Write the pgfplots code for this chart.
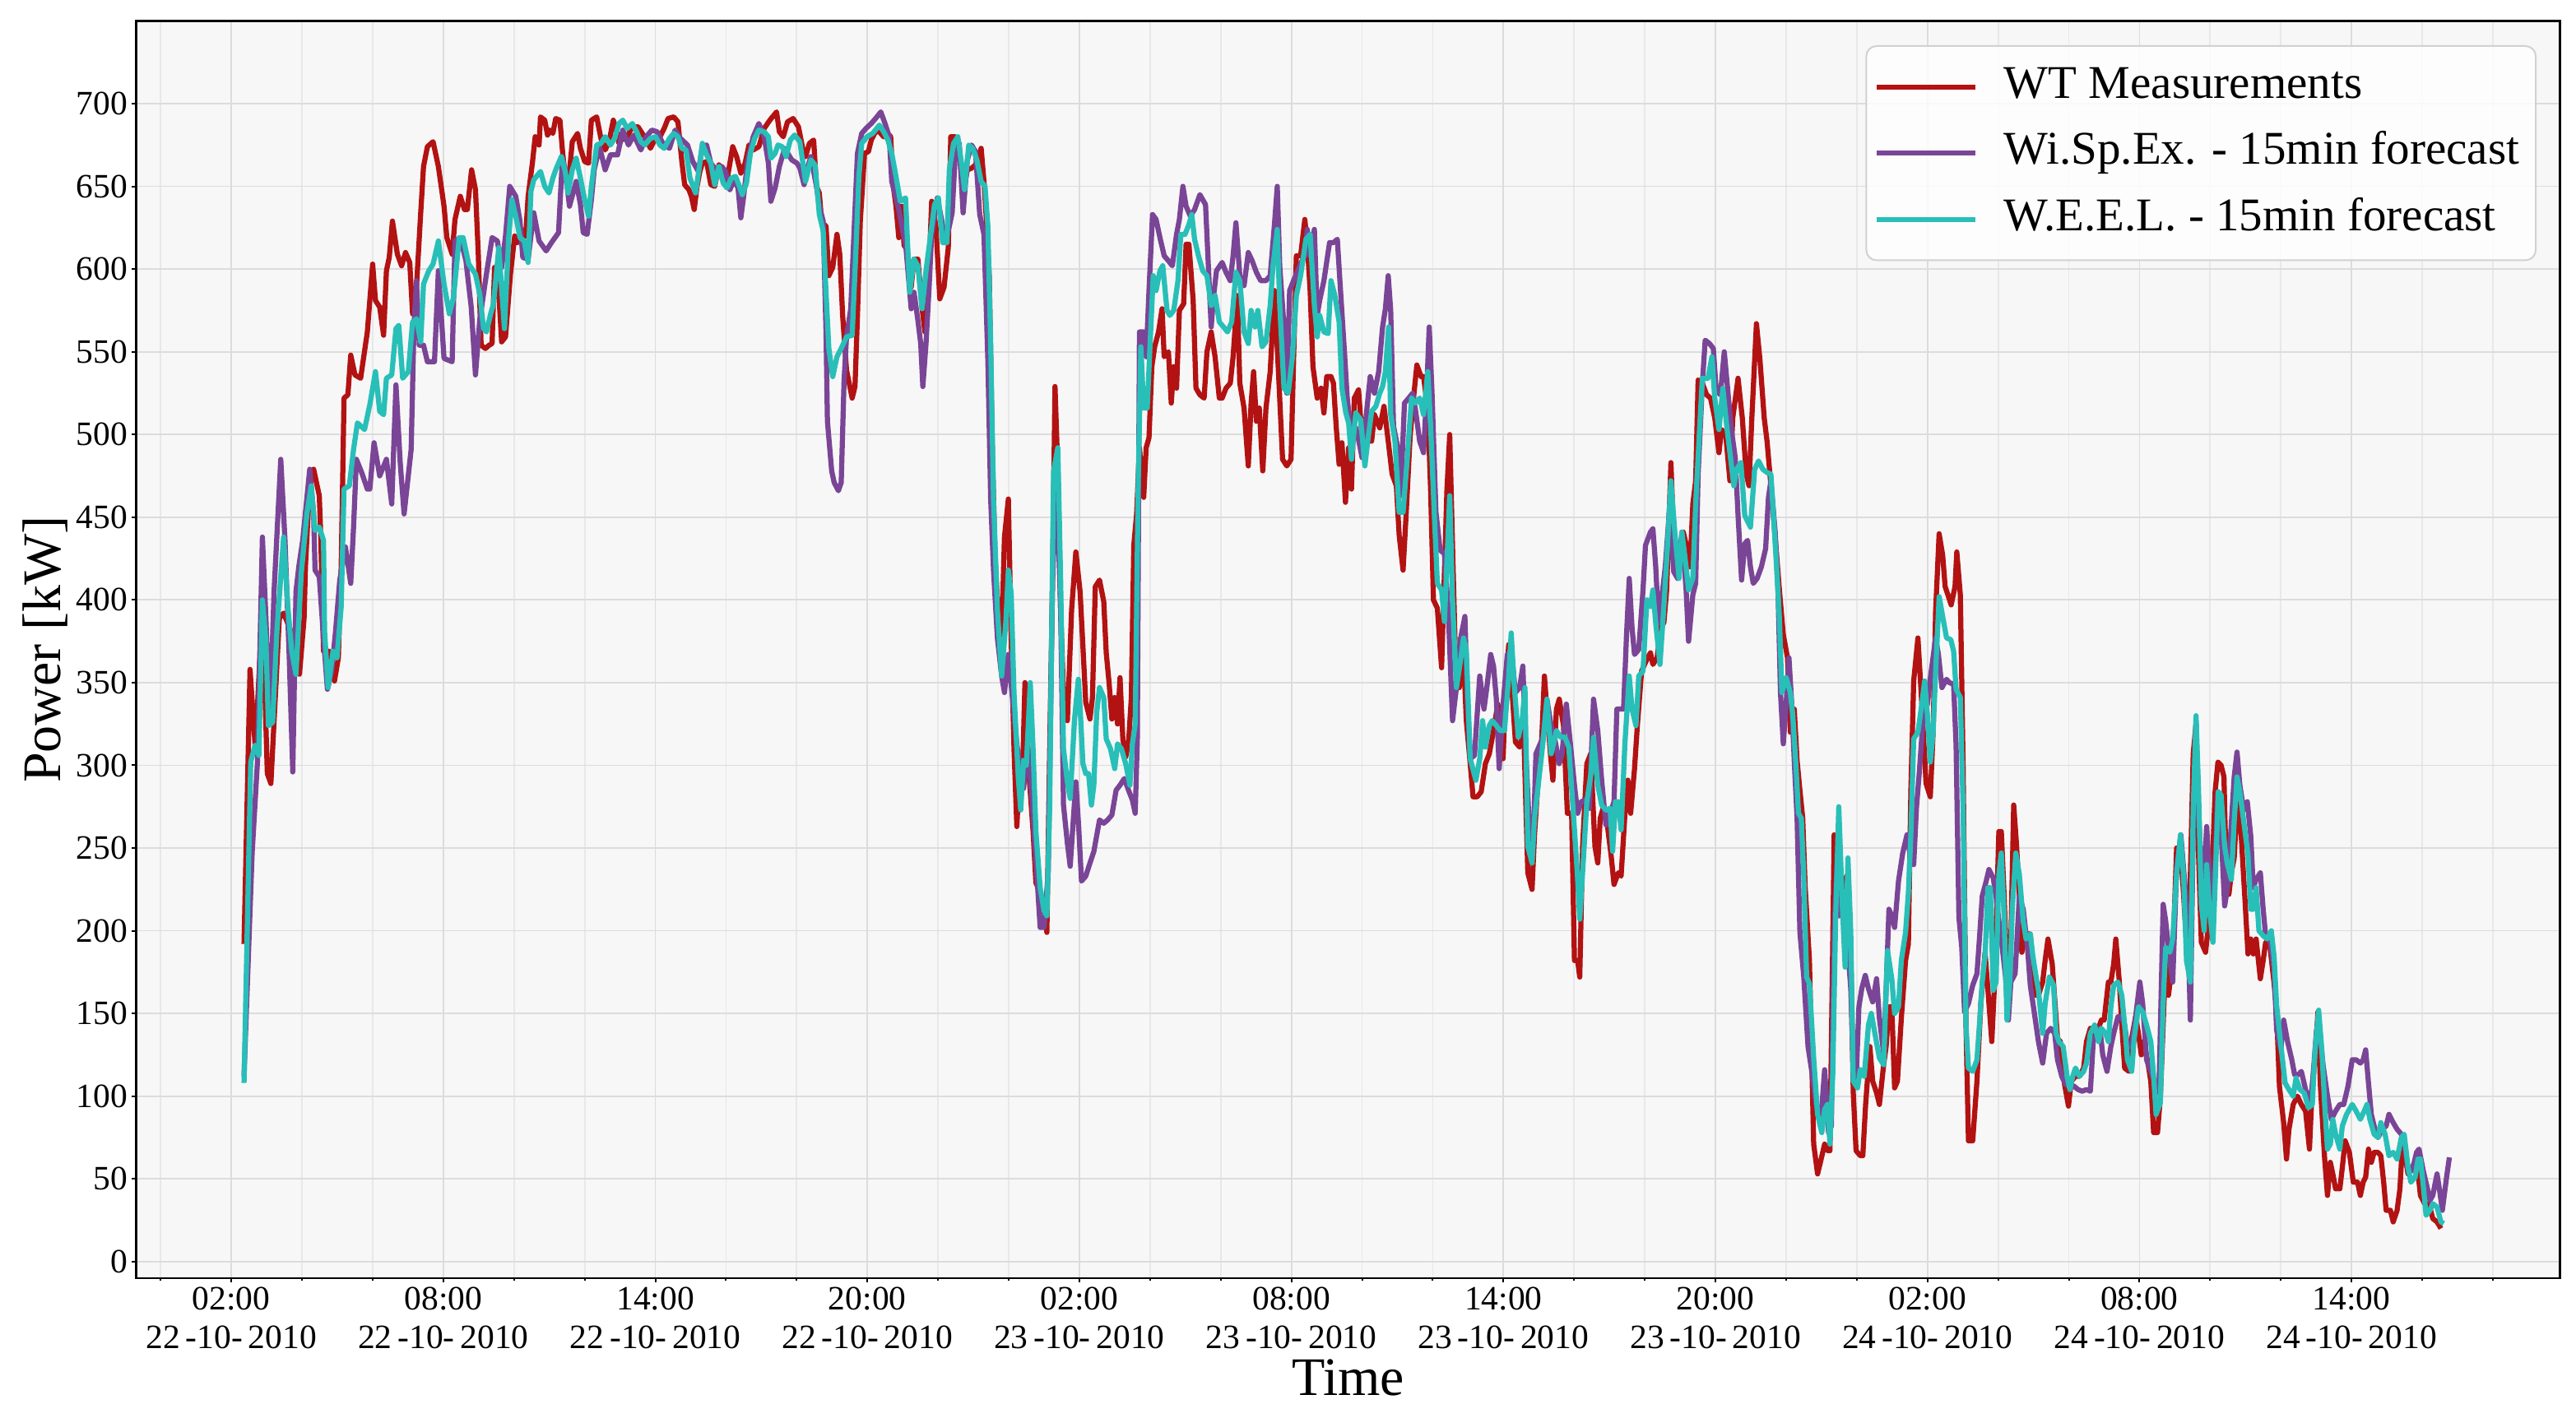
\documentclass[border=0pt]{standalone}
\usepackage{pgfplots}
\pgfplotsset{compat=1.18}
\usepackage{fontspec}
\setmainfont{Liberation Serif}
\definecolor{cRed}{HTML}{B31212}
\definecolor{cPur}{HTML}{7A4596}
\definecolor{cTeal}{HTML}{28BFB8}
\definecolor{bgc}{HTML}{F7F7F7}
\definecolor{gridc}{HTML}{DCDCDC}
\definecolor{mgridc}{HTML}{E8E8E8}
\begin{document}
\begin{tikzpicture}
\useasboundingbox (-33.12pt,-34pt) rectangle (593.1pt,310.8pt);
\begin{axis}[
  at={(0,0)}, anchor=south west,
  width=589.2pt, height=305.7pt, scale only axis,
  xmin=-0.69, xmax=67.9, ymin=-10, ymax=750,
  axis background/.style={fill=bgc},
  axis line style={black, line width=0.45pt},
  tick pos=left, tick align=outside,
  major tick length=1.1pt, minor tick length=0.7pt,
  every tick/.style={black, line width=0.4pt},
  grid=both,
  major grid style={gridc, line width=0.35pt},
  minor grid style={mgridc, line width=0.35pt},
  xtick={2,8,...,62},
  minor xtick={0,4,6,10,12,16,18,22,24,28,30,34,36,40,42,46,48,52,54,58,60,64,66},
  xticklabels={{02:00\\22\,-10-\,2010},{08:00\\22\,-10-\,2010},{14:00\\22\,-10-\,2010},{20:00\\22\,-10-\,2010},
               {02:00\\23\,-10-\,2010},{08:00\\23\,-10-\,2010},{14:00\\23\,-10-\,2010},{20:00\\23\,-10-\,2010},
               {02:00\\24\,-10-\,2010},{08:00\\24\,-10-\,2010},{14:00\\24\,-10-\,2010}},
  xticklabel style={align=center, font=\fontsize{8.3}{9.4}\selectfont, yshift=2.4pt},
  ytick={0,50,...,700},
  yticklabel style={font=\fontsize{8.3}{9}\selectfont, xshift=2.5pt},
  /pgf/number format/assume math mode=true,
  xlabel={Time}, ylabel={Power [kW]},
  label style={font=\fontsize{13.2}{15}\selectfont},
  xlabel style={at={(axis description cs:0.5,-0.079)}, anchor=center},
  ylabel style={at={(axis description cs:-0.0375,0.5)}, anchor=center},
  legend cell align=left,
  legend image code/.code={\draw[#1, line width=1.2pt] (0pt,0pt) -- (24pt,0pt);},
  legend style={at={(axis description cs:1,1)}, anchor=north east, xshift=-5.7pt, yshift=-5.9pt,
    draw=black!18, rounded corners=2.5pt, fill=white, fill opacity=0.8, text opacity=1, draw opacity=1,
    font=\fontsize{11.4}{13}\selectfont, inner xsep=2pt, inner ysep=2.6pt, row sep=1.4pt,
    nodes={inner sep=2pt, text depth=2.6pt, text height=8.1pt},
    /tikz/every odd column/.append style={column sep=4.3pt}},
  every axis plot/.append style={line join=round, line width=1.25pt},
]
\addplot[cRed] coordinates {
(2.36,192)(2.53,358)(2.68,310)(2.88,395)(3.02,295)(3.12,289)(3.36,389)(3.48,392)(3.69,381)(3.81,357)(3.93,355)(4.06,389)(4.10,421)(4.22,471)(4.33,479)(4.49,463)(4.53,440)(4.61,369)(4.76,369)(4.92,351)(5.03,365)(5.11,420)(5.19,522)(5.30,524)(5.38,548)(5.50,536)(5.66,534)(5.85,562)(6.00,603)(6.08,581)(6.20,577)(6.31,560)(6.39,599)(6.47,607)(6.56,629)(6.70,609)(6.82,602)(6.93,610)(7.05,604)(7.13,573)(7.24,589)(7.36,634)(7.44,662)(7.55,674)(7.71,677)(7.86,662)(8.02,638)(8.10,619)(8.25,609)(8.33,630)(8.48,644)(8.60,636)(8.68,636)(8.80,660)(8.91,648)(8.99,609)(9.07,554)(9.19,552)(9.30,554)(9.38,555)(9.45,601)(9.57,585)(9.65,556)(9.76,559)(9.90,597)
(10.02,620)(10.09,616)(10.21,624)(10.33,620)(10.40,644)(10.52,664)(10.60,680)(10.71,675)(10.75,692)(10.87,690)(10.95,681)(11.02,684)(11.10,682)(11.18,691)(11.30,690)(11.37,672)(11.45,655)(11.53,650)(11.65,677)(11.80,682)(11.88,673)(12.00,665)(12.11,664)(12.19,690)(12.34,692)(12.46,679)(12.58,672)(12.69,677)(12.81,690)(12.89,685)(12.97,676)(13.04,678)(13.20,680)(13.35,686)(13.51,686)(13.66,681)(13.74,679)(13.86,673)(13.98,678)(14.13,680)(14.25,685)(14.36,691)(14.52,692)(14.64,689)(14.75,665)(14.83,651)(14.95,648)(15.02,644)(15.10,636)(15.18,650)(15.26,659)(15.33,664)(15.45,665)(15.57,651)(15.68,650)(15.80,663)(15.92,657)(16.03,654)(16.19,674)(16.30,668)(16.42,658)(16.54,664)(16.65,675)(16.77,672)(16.93,674)(17.08,685)(17.24,690)(17.43,695)(17.51,683)(17.62,680)(17.74,689)(17.90,691)(18.05,686)
(18.17,673)(18.25,668)(18.36,676)(18.48,678)(18.56,650)(18.64,646)(18.71,628)(18.83,626)(18.91,596)(19.02,601)(19.14,621)(19.22,609)(19.30,572)(19.41,539)(19.57,522)(19.65,529)(19.72,572)(19.80,629)(19.92,670)(20.03,671)(20.11,678)(20.23,683)(20.34,683)(20.46,680)(20.58,682)(20.66,680)(20.73,651)(20.81,638)(20.89,619)(20.97,638)(21.04,614)(21.12,613)(21.24,589)(21.32,606)(21.43,606)(21.55,576)(21.63,562)(21.74,596)(21.82,641)(21.94,626)(22.05,582)(22.17,589)(22.29,613)(22.36,680)(22.48,680)(22.60,673)(22.71,646)(22.83,660)(22.95,661)(23.06,663)(23.22,673)(23.30,653)(23.37,629)(23.45,596)(23.53,498)(23.61,428)(23.72,384)(23.80,377)(23.88,438)(23.99,461)(24.07,377)(24.15,310)(24.23,263)(24.30,293)(24.38,286)(24.46,350)(24.58,293)(24.69,260)(24.77,229)(24.89,223)(25.00,212)(25.08,199)(25.16,310)(25.24,411)(25.31,529)(25.39,478)(25.47,394)(25.55,344)(25.66,327)(25.78,394)(25.90,429)
(26.02,405)(26.10,372)(26.18,338)(26.30,328)(26.37,341)(26.45,408)(26.57,412)(26.69,399)(26.76,368)(26.84,350)(26.92,328)(27.00,341)(27.08,325)(27.15,353)(27.23,316)(27.31,305)(27.39,313)(27.47,341)(27.54,433)(27.62,452)(27.70,492)(27.82,462)(27.89,492)(27.97,498)(28.05,541)(28.13,553)(28.24,562)(28.34,576)(28.40,547)(28.52,550)(28.60,519)(28.67,541)(28.75,528)(28.83,575)(28.95,579)(29.02,615)(29.10,615)(29.22,581)(29.30,528)(29.41,524)(29.53,522)(29.61,550)(29.73,562)(29.84,547)(29.96,522)(30.04,522)(30.15,528)(30.27,531)(30.35,547)(30.47,584)(30.54,531)(30.66,516)(30.78,481)(30.86,519)(30.93,538)(31.01,508)(31.09,516)(31.19,478)(31.28,516)(31.40,538)(31.52,587)(31.64,535)(31.75,485)(31.87,481)(31.99,485)(32.06,544)(32.14,608)(32.26,608)(32.38,630)(32.45,615)(32.53,587)(32.61,541)(32.73,522)(32.84,528)(32.92,513)(33.00,535)(33.12,535)(33.19,531)(33.27,504)(33.35,482)(33.43,495)(33.53,459)(33.62,492)(33.70,467)(33.78,522)(33.90,527)
(34.04,486)(34.16,496)(34.27,496)(34.35,512)(34.50,504)(34.62,517)(34.74,496)(34.85,476)(34.97,469)(35.05,439)(35.16,418)(35.24,449)(35.36,499)(35.47,525)(35.55,542)(35.67,535)(35.74,535)(35.86,515)(35.94,466)(36.02,400)(36.13,395)(36.25,359)(36.33,416)(36.40,466)(36.48,500)(36.56,433)(36.64,367)(36.75,347)(36.87,367)(36.95,327)(37.06,301)(37.14,281)(37.26,281)(37.37,284)(37.49,301)(37.60,307)(37.72,321)(37.84,337)(37.91,324)(37.99,304)(38.07,350)(38.15,373)(38.26,340)(38.34,314)(38.46,311)(38.57,324)(38.69,235)(38.81,225)(38.88,258)(38.96,284)(39.08,314)(39.16,354)(39.23,334)(39.33,307)(39.40,291)(39.50,334)(39.58,340)(39.70,324)(39.81,271)(39.93,271)(40.01,182)(40.10,182)(40.16,172)(40.24,251)(40.36,301)(40.47,307)(40.59,251)(40.67,241)(40.74,268)(40.82,274)(40.94,264)(41.05,245)(41.13,228)(41.25,235)(41.33,233)(41.44,271)(41.52,291)(41.60,271)(41.71,298)(41.79,324)(41.91,357)
(42.08,365)(42.16,368)(42.23,361)(42.35,365)(42.47,386)(42.54,386)(42.62,406)(42.74,483)(42.85,420)(42.97,417)(43.09,441)(43.20,431)(43.28,420)(43.36,458)(43.44,472)(43.51,533)(43.63,531)(43.75,524)(43.86,522)(43.98,510)(44.10,489)(44.17,503)(44.29,500)(44.41,472)(44.49,510)(44.64,534)(44.76,510)(44.87,476)(44.95,469)(45.03,510)(45.16,567)(45.26,545)(45.38,510)(45.46,496)(45.57,469)(45.69,438)(45.81,406)(45.92,379)(46.04,365)(46.12,320)(46.23,334)(46.31,303)(46.39,285)(46.47,268)(46.54,226)(46.66,182)(46.78,71)(46.89,53)(46.97,60)(47.09,71)(47.17,67)(47.24,67)(47.36,258)(47.48,233)(47.59,213)(47.71,233)(47.83,185)(47.90,102)(47.98,67)(48.10,64)(48.17,64)(48.25,95)(48.37,130)(48.45,109)(48.56,102)(48.64,95)(48.76,119)(48.83,130)(48.91,154)(48.99,154)(49.07,105)(49.15,109)(49.26,147)(49.38,182)(49.46,192)(49.53,285)(49.61,351)(49.73,377)(49.84,337)(49.96,289)
(50.08,281)(50.16,320)(50.23,393)(50.33,440)(50.43,427)(50.50,408)(50.58,403)(50.67,397)(50.78,408)(50.83,429)(50.93,403)(51.01,299)(51.09,143)(51.16,73)(51.28,73)(51.40,109)(51.51,156)(51.63,187)(51.74,156)(51.82,133)(51.90,169)(52.02,260)(52.09,260)(52.17,221)(52.25,174)(52.33,164)(52.44,276)(52.52,252)(52.60,221)(52.67,187)(52.79,198)(52.91,198)(52.98,180)(53.06,161)(53.14,161)(53.26,169)(53.33,182)(53.41,195)(53.53,180)(53.60,159)(53.68,135)(53.76,133)(53.88,107)(53.99,94)(54.07,109)(54.19,112)(54.30,112)(54.42,117)(54.50,133)(54.61,141)(54.73,135)(54.84,141)(54.92,146)(55.00,146)(55.12,169)(55.19,169)(55.27,180)(55.33,195)(55.43,169)(55.50,143)(55.58,117)(55.70,115)(55.78,135)(55.89,148)(55.97,138)(56.05,125)(56.12,133)(56.24,120)(56.32,109)(56.40,78)(56.51,78)(56.59,99)(56.67,143)(56.74,182)(56.82,161)(56.94,182)(57.05,250)(57.17,247)(57.25,221)(57.36,182)(57.44,234)(57.52,307)(57.60,325)(57.67,247)(57.75,193)(57.87,187)
(58.02,217)(58.14,284)(58.22,302)(58.31,300)(58.39,293)(58.45,240)(58.53,222)(58.60,235)(58.68,244)(58.76,277)(58.88,257)(58.99,217)(59.07,186)(59.15,195)(59.22,186)(59.30,195)(59.42,171)(59.50,182)(59.57,193)(59.69,191)(59.81,168)(59.88,151)(59.96,106)(60.08,84)(60.16,62)(60.23,80)(60.35,95)(60.47,100)(60.58,95)(60.70,91)(60.81,68)(60.89,106)(60.97,124)(61.05,151)(61.12,106)(61.24,62)(61.32,40)(61.40,60)(61.47,53)(61.55,44)(61.67,44)(61.74,57)(61.82,73)(61.94,66)(62.05,48)(62.17,48)(62.25,40)(62.33,48)(62.40,51)(62.48,68)(62.56,60)(62.64,66)(62.75,66)(62.83,64)(62.91,48)(62.98,31)(63.10,31)(63.18,24)(63.29,31)(63.37,44)(63.45,75)(63.53,62)(63.60,53)(63.72,57)(63.84,62)(63.95,40)(64.07,35)(64.19,35)(64.30,26)(64.42,24)(64.53,20)
};
\addlegendentry{WT Measurements}
\addplot[cPur] coordinates {
(2.36,112)(2.59,247)(2.74,302)(2.88,438)(2.98,389)(3.09,326)(3.21,405)(3.40,485)(3.52,436)(3.64,365)(3.74,296)(3.83,405)(3.91,420)(4.02,436)(4.22,479)(4.33,452)(4.37,418)(4.49,414)(4.61,377)(4.72,346)(4.84,357)(4.95,381)(5.07,412)(5.23,432)(5.38,410)(5.46,444)(5.54,485)(5.69,477)(5.85,467)(5.92,467)(6.04,495)(6.20,475)(6.39,485)(6.54,458)(6.66,530)(6.78,483)(6.89,452)(7.09,491)(7.17,566)(7.24,593)(7.32,554)(7.44,554)(7.55,544)(7.75,544)(7.86,599)(8.02,546)(8.25,544)(8.33,617)(8.48,619)(8.64,605)(8.79,577)(8.91,536)(9.03,569)(9.22,597)(9.38,619)(9.53,617)(9.65,601)(9.76,620)(9.88,650)
(10.05,644)(10.17,629)(10.25,607)(10.40,606)(10.56,634)(10.71,617)(10.91,611)(11.06,616)(11.26,622)(11.37,667)(11.45,660)(11.57,638)(11.76,653)(11.88,639)(11.96,622)(12.07,621)(12.19,642)(12.27,660)(12.42,674)(12.58,660)(12.73,669)(12.93,669)(13.08,684)(13.24,675)(13.39,681)(13.59,672)(13.74,680)(13.90,684)(14.05,683)(14.21,676)(14.40,673)(14.56,684)(14.71,679)(14.91,675)(15.06,665)(15.22,659)(15.33,674)(15.45,675)(15.57,664)(15.72,660)(15.88,662)(15.99,659)(16.11,648)(16.23,654)(16.34,649)(16.42,631)(16.50,644)(16.61,665)(16.77,680)(16.93,688)(17.08,680)(17.20,664)(17.27,641)(17.39,649)(17.51,662)(17.66,673)(17.86,666)(18.01,664)
(18.09,661)(18.21,651)(18.33,663)(18.40,668)(18.56,650)(18.64,638)(18.75,629)(18.83,562)(18.87,508)(18.99,478)(19.06,471)(19.18,466)(19.26,471)(19.34,532)(19.41,559)(19.53,576)(19.65,636)(19.72,670)(19.84,682)(19.96,685)(20.11,688)(20.27,692)(20.38,695)(20.50,688)(20.62,680)(20.69,653)(20.81,643)(20.89,636)(21.00,623)(21.08,616)(21.16,596)(21.24,576)(21.32,586)(21.43,569)(21.51,555)(21.57,529)(21.66,555)(21.74,586)(21.82,621)(21.98,643)(22.09,631)(22.21,616)(22.32,626)(22.40,634)(22.48,666)(22.60,676)(22.71,634)(22.83,666)(22.95,675)(23.06,671)(23.18,633)(23.30,621)(23.41,545)(23.49,461)(23.57,418)(23.68,377)(23.80,354)(23.88,344)(23.99,367)(24.11,340)(24.23,313)(24.34,296)(24.42,286)(24.54,310)(24.65,283)(24.77,243)(24.89,202)(25.00,202)(25.12,236)(25.24,411)(25.35,478)(25.47,394)(25.55,276)(25.66,253)(25.74,239)(25.90,290)
(25.98,263)(26.06,230)(26.18,233)(26.30,241)(26.41,248)(26.57,267)(26.69,265)(26.80,267)(26.92,270)(27.04,285)(27.15,288)(27.27,292)(27.39,285)(27.50,279)(27.58,271)(27.64,316)(27.70,562)(27.82,562)(27.89,547)(27.97,587)(28.07,633)(28.17,630)(28.28,619)(28.40,608)(28.52,605)(28.63,602)(28.75,621)(28.83,630)(28.93,650)(29.02,638)(29.14,632)(29.26,636)(29.41,645)(29.57,639)(29.65,602)(29.73,565)(29.80,584)(29.88,599)(30.04,604)(30.15,598)(30.27,593)(30.35,608)(30.43,628)(30.54,596)(30.66,590)(30.78,610)(30.89,605)(31.01,598)(31.13,593)(31.28,593)(31.40,596)(31.52,627)(31.60,650)(31.67,602)(31.79,565)(31.87,525)(31.95,587)(32.06,593)(32.18,599)(32.30,605)(32.38,608)(32.45,624)(32.53,608)(32.65,624)(32.73,572)(32.80,581)(32.92,593)(33.08,616)(33.19,616)(33.30,618)(33.39,587)(33.51,547)(33.58,522)(33.70,498)(33.82,504)
(33.88,499)(34.00,486)(34.12,512)(34.23,535)(34.35,525)(34.47,538)(34.58,565)(34.66,576)(34.74,596)(34.81,575)(34.89,505)(35.01,492)(35.09,463)(35.20,519)(35.32,522)(35.43,525)(35.51,515)(35.63,496)(35.74,489)(35.82,522)(35.90,565)(35.98,525)(36.09,453)(36.21,430)(36.33,428)(36.44,393)(36.56,327)(36.67,347)(36.79,377)(36.91,390)(36.98,340)(37.06,304)(37.18,306)(37.33,354)(37.45,334)(37.53,347)(37.64,367)(37.72,360)(37.80,340)(37.88,298)(37.99,337)(38.11,367)(38.22,370)(38.34,344)(38.46,347)(38.55,360)(38.65,301)(38.77,245)(38.84,251)(38.92,307)(39.00,311)(39.12,317)(39.23,340)(39.35,324)(39.47,314)(39.58,301)(39.66,307)(39.78,337)(39.89,314)(40.01,288)(40.10,271)(40.20,278)(40.32,279)(40.43,274)(40.55,340)(40.67,321)(40.78,291)(40.90,264)(41.02,271)(41.13,278)(41.21,334)(41.29,334)(41.40,334)(41.48,377)(41.56,413)(41.64,383)(41.71,367)(41.83,370)(41.95,406)(42.02,433)
(42.16,441)(42.23,443)(42.31,420)(42.39,386)(42.47,399)(42.58,420)(42.70,455)(42.82,417)(42.93,413)(43.05,441)(43.17,406)(43.24,375)(43.36,403)(43.44,410)(43.51,476)(43.63,531)(43.71,557)(43.83,555)(43.94,552)(44.02,527)(44.14,524)(44.25,550)(44.33,531)(44.45,503)(44.56,486)(44.64,451)(44.74,412)(44.83,434)(44.91,436)(44.99,420)(45.07,410)(45.18,413)(45.30,420)(45.42,431)(45.50,462)(45.57,472)(45.69,441)(45.77,406)(45.84,344)(45.92,313)(46.00,337)(46.08,365)(46.16,337)(46.23,303)(46.31,268)(46.39,199)(46.50,172)(46.62,130)(46.74,113)(46.85,95)(46.97,82)(47.09,116)(47.20,78)(47.28,82)(47.36,199)(47.44,240)(47.51,209)(47.63,216)(47.71,199)(47.83,165)(47.90,116)(47.98,109)(48.06,154)(48.14,165)(48.24,173)(48.33,165)(48.45,157)(48.56,171)(48.64,147)(48.76,126)(48.83,165)(48.91,213)(48.99,209)(49.07,202)(49.18,230)(49.30,247)(49.42,258)(49.50,247)(49.61,240)(49.69,275)(49.77,296)(49.88,330)(50.00,337)(50.07,351)
(50.23,377)(50.31,367)(50.41,347)(50.54,352)(50.62,350)(50.74,349)(50.81,312)(50.89,208)(50.97,190)(51.05,151)(51.16,156)(51.28,167)(51.40,174)(51.47,195)(51.55,221)(51.65,229)(51.74,237)(51.86,232)(51.94,221)(52.02,206)(52.09,195)(52.21,172)(52.29,146)(52.36,169)(52.48,174)(52.60,221)(52.71,213)(52.83,190)(52.91,167)(53.02,151)(53.14,133)(53.26,120)(53.37,138)(53.49,141)(53.60,138)(53.68,122)(53.80,112)(53.91,107)(54.03,107)(54.15,106)(54.26,104)(54.38,103)(54.50,104)(54.61,103)(54.69,133)(54.81,138)(54.88,141)(54.96,125)(55.08,115)(55.19,130)(55.27,138)(55.39,148)(55.50,148)(55.58,143)(55.66,130)(55.78,130)(55.89,148)(56.01,169)(56.09,156)(56.20,122)(56.32,115)(56.43,109)(56.55,102)(56.67,216)(56.74,206)(56.86,182)(56.94,169)(57.05,237)(57.17,258)(57.25,237)(57.36,208)(57.44,146)(57.52,260)(57.60,325)(57.67,273)(57.79,216)
(57.90,263)(57.98,235)(58.06,195)(58.14,240)(58.22,284)(58.29,268)(58.41,215)(58.49,226)(58.57,255)(58.68,293)(58.76,308)(58.84,288)(58.95,273)(59.05,278)(59.15,257)(59.22,226)(59.30,231)(59.42,235)(59.50,213)(59.57,197)(59.69,195)(59.81,177)(59.88,140)(60.00,128)(60.08,146)(60.19,133)(60.31,122)(60.39,113)(60.50,113)(60.58,115)(60.70,104)(60.81,95)(60.89,106)(61.01,140)(61.09,140)(61.20,118)(61.32,100)(61.43,86)(61.55,91)(61.67,95)(61.78,95)(61.90,106)(62.02,122)(62.13,122)(62.25,120)(62.33,122)(62.40,128)(62.48,108)(62.56,89)(62.64,82)(62.75,75)(62.87,80)(62.98,82)(63.06,89)(63.18,84)(63.29,80)(63.41,77)(63.49,73)(63.60,55)(63.72,55)(63.84,66)(63.91,68)(64.03,55)(64.15,44)(64.22,37)(64.30,40)(64.42,53)(64.50,42)(64.57,31)(64.69,51)(64.77,63)
};
\addlegendentry{Wi.Sp.Ex. - 15min forecast}
\addplot[cTeal] coordinates {
(2.36,108)(2.55,302)(2.67,312)(2.78,306)(2.88,400)(2.98,375)(3.05,324)(3.17,326)(3.29,381)(3.48,438)(3.60,396)(3.71,369)(3.83,355)(3.98,416)(4.14,452)(4.26,469)(4.37,442)(4.49,444)(4.61,436)(4.64,381)(4.74,347)(4.88,369)(4.99,365)(5.11,396)(5.19,467)(5.34,469)(5.46,491)(5.57,507)(5.77,503)(5.92,518)(6.08,538)(6.20,514)(6.31,512)(6.39,534)(6.54,536)(6.66,564)(6.74,566)(6.85,534)(7.01,538)(7.13,568)(7.24,570)(7.36,556)(7.44,591)(7.59,599)(7.71,603)(7.86,617)(8.02,591)(8.17,573)(8.29,583)(8.45,619)(8.56,619)(8.72,603)(8.91,597)(9.03,585)(9.14,564)(9.22,562)(9.34,573)(9.42,579)(9.57,613)(9.73,564)(9.85,619)
(9.94,642)(10.05,632)(10.17,619)(10.29,617)(10.40,604)(10.48,647)(10.56,654)(10.75,659)(10.87,650)(10.99,646)(11.10,655)(11.18,660)(11.34,668)(11.45,659)(11.53,646)(11.65,660)(11.76,667)(11.88,655)(12.00,642)(12.11,632)(12.19,650)(12.34,675)(12.46,676)(12.58,680)(12.73,675)(12.85,679)(12.97,688)(13.08,690)(13.20,685)(13.35,688)(13.47,683)(13.59,677)(13.70,675)(13.86,679)(14.01,680)(14.13,675)(14.25,673)(14.40,679)(14.52,682)(14.64,680)(14.75,673)(14.87,672)(14.98,655)(15.14,646)(15.26,664)(15.33,676)(15.45,669)(15.57,664)(15.68,651)(15.80,662)(15.92,652)(16.03,649)(16.15,655)(16.27,656)(16.38,650)(16.46,645)(16.58,652)(16.69,670)(16.81,679)(16.93,684)(17.08,683)(17.20,680)(17.27,667)(17.39,670)(17.47,675)(17.59,674)(17.70,668)(17.82,678)(17.94,681)(18.09,677)
(18.25,653)(18.40,666)(18.52,663)(18.64,633)(18.75,623)(18.83,586)(18.91,552)(19.02,535)(19.14,547)(19.26,552)(19.41,559)(19.57,560)(19.68,613)(19.76,656)(19.84,676)(19.99,680)(20.15,682)(20.34,687)(20.46,683)(20.58,678)(20.69,670)(20.81,656)(20.93,641)(21.08,643)(21.20,586)(21.32,606)(21.43,602)(21.55,576)(21.66,599)(21.78,619)(21.90,639)(22.01,643)(22.13,616)(22.25,616)(22.32,660)(22.44,676)(22.56,680)(22.67,663)(22.75,648)(22.87,675)(22.98,673)(23.10,666)(23.22,653)(23.33,650)(23.41,626)(23.49,555)(23.57,461)(23.68,394)(23.80,354)(23.92,387)(23.99,418)(24.07,404)(24.15,344)(24.27,293)(24.34,273)(24.42,303)(24.50,300)(24.61,350)(24.69,310)(24.77,260)(24.89,226)(25.00,212)(25.08,209)(25.16,276)(25.27,478)(25.39,492)(25.47,411)(25.55,310)(25.66,290)(25.74,280)(25.86,327)(25.97,352)
(26.02,335)(26.10,301)(26.18,295)(26.26,295)(26.34,276)(26.41,288)(26.49,332)(26.57,347)(26.69,341)(26.76,316)(26.88,310)(27.00,298)(27.08,313)(27.19,310)(27.31,301)(27.43,288)(27.50,313)(27.58,325)(27.66,464)(27.74,553)(27.82,516)(27.92,516)(28.01,559)(28.09,596)(28.17,587)(28.28,599)(28.36,602)(28.48,575)(28.56,572)(28.67,575)(28.79,593)(28.87,621)(28.99,621)(29.10,627)(29.18,633)(29.26,618)(29.37,608)(29.49,599)(29.61,596)(29.73,578)(29.84,584)(29.96,568)(30.08,565)(30.19,562)(30.31,568)(30.43,598)(30.54,593)(30.66,562)(30.78,555)(30.86,575)(30.97,565)(31.05,575)(31.17,553)(31.28,556)(31.40,578)(31.48,602)(31.60,624)(31.67,578)(31.79,528)(31.91,525)(32.03,547)(32.14,584)(32.26,596)(32.41,618)(32.53,621)(32.65,578)(32.73,559)(32.80,572)(32.92,562)(33.04,561)(33.12,593)(33.23,584)(33.35,568)(33.43,528)(33.54,513)(33.62,507)(33.70,485)(33.82,513)
(33.96,509)(34.08,481)(34.16,496)(34.27,514)(34.39,517)(34.50,525)(34.58,529)(34.66,538)(34.75,565)(34.81,512)(34.93,496)(35.05,453)(35.16,453)(35.28,486)(35.40,522)(35.51,519)(35.63,522)(35.74,512)(35.86,538)(35.94,505)(36.05,449)(36.13,410)(36.25,406)(36.33,387)(36.48,463)(36.56,400)(36.67,347)(36.79,364)(36.87,377)(36.95,370)(37.06,304)(37.22,291)(37.33,304)(37.41,327)(37.49,311)(37.60,324)(37.68,327)(37.80,324)(37.91,321)(38.03,321)(38.15,354)(38.22,380)(38.30,350)(38.42,317)(38.53,327)(38.61,347)(38.69,251)(38.81,241)(38.88,268)(39.00,291)(39.12,314)(39.23,340)(39.35,307)(39.43,314)(39.50,321)(39.62,317)(39.74,317)(39.85,311)(39.97,274)(40.09,235)(40.16,207)(40.24,235)(40.36,278)(40.47,294)(40.55,317)(40.67,288)(40.78,276)(40.90,273)(41.02,274)(41.09,248)(41.17,278)(41.25,278)(41.33,261)(41.44,314)(41.56,354)(41.64,334)(41.75,324)(41.83,354)(41.95,357)(42.06,400)
(42.16,396)(42.23,406)(42.31,386)(42.43,361)(42.54,396)(42.62,424)(42.74,472)(42.85,441)(42.97,413)(43.05,441)(43.17,420)(43.24,406)(43.36,413)(43.44,458)(43.55,503)(43.63,534)(43.79,534)(43.90,547)(43.98,522)(44.10,503)(44.21,528)(44.33,503)(44.41,489)(44.52,469)(44.60,479)(44.72,483)(44.83,451)(44.99,444)(45.11,479)(45.22,484)(45.34,479)(45.46,477)(45.57,476)(45.65,448)(45.73,420)(45.81,389)(45.88,344)(46.00,353)(46.12,344)(46.19,330)(46.27,303)(46.35,271)(46.43,268)(46.50,233)(46.58,172)(46.66,168)(46.78,123)(46.89,89)(47.01,78)(47.09,92)(47.17,95)(47.24,71)(47.32,113)(47.40,206)(47.49,275)(47.59,216)(47.67,178)(47.75,244)(47.83,199)(47.90,109)(48.02,105)(48.10,116)(48.21,112)(48.33,143)(48.41,150)(48.52,137)(48.64,123)(48.76,119)(48.87,188)(48.99,171)(49.07,150)(49.18,154)(49.26,182)(49.38,199)(49.46,223)(49.53,258)(49.61,316)(49.73,320)(49.84,337)(49.92,351)
(50.00,330)(50.08,302)(50.16,320)(50.23,356)(50.33,402)(50.43,390)(50.54,377)(50.66,376)(50.74,369)(50.81,346)(50.93,341)(51.01,273)(51.09,143)(51.16,117)(51.28,115)(51.40,122)(51.47,143)(51.55,169)(51.63,185)(51.71,226)(51.78,226)(51.86,164)(51.94,169)(52.02,234)(52.09,247)(52.17,208)(52.25,146)(52.33,169)(52.40,213)(52.50,247)(52.60,234)(52.71,206)(52.79,195)(52.91,198)(52.98,185)(53.06,174)(53.14,164)(53.26,138)(53.33,156)(53.45,172)(53.57,167)(53.64,138)(53.72,133)(53.84,130)(53.95,112)(54.03,104)(54.11,112)(54.19,117)(54.30,112)(54.42,115)(54.50,120)(54.61,138)(54.73,143)(54.84,133)(54.92,141)(55.04,138)(55.12,133)(55.19,154)(55.27,167)(55.39,169)(55.50,161)(55.58,143)(55.66,122)(55.78,115)(55.85,135)(55.97,154)(56.09,151)(56.20,143)(56.32,133)(56.40,112)(56.47,89)(56.59,96)(56.67,156)(56.74,190)(56.86,187)(56.94,195)(57.05,234)(57.16,258)(57.25,232)(57.33,182)(57.44,169)(57.52,273)(57.60,330)(57.67,286)(57.75,216)(57.83,200)
(57.90,240)(57.98,213)(58.08,193)(58.16,240)(58.23,284)(58.31,282)(58.41,251)(58.49,240)(58.60,231)(58.68,266)(58.76,293)(58.84,284)(58.95,266)(59.07,246)(59.15,213)(59.22,213)(59.30,226)(59.38,200)(59.50,197)(59.61,195)(59.73,200)(59.81,184)(59.88,155)(60.00,131)(60.12,108)(60.23,104)(60.35,100)(60.43,111)(60.54,104)(60.66,102)(60.78,93)(60.89,95)(60.97,128)(61.07,152)(61.16,128)(61.24,95)(61.32,68)(61.40,71)(61.47,86)(61.55,77)(61.67,68)(61.74,82)(61.86,89)(62.02,95)(62.13,91)(62.25,86)(62.36,91)(62.44,95)(62.52,86)(62.64,77)(62.75,75)(62.83,84)(62.95,77)(63.06,64)(63.18,66)(63.29,62)(63.41,75)(63.49,77)(63.60,57)(63.68,48)(63.80,51)(63.88,62)(63.95,62)(64.03,46)(64.11,28)(64.22,31)(64.30,35)(64.42,33)(64.53,24)(64.61,23)
};
\addlegendentry{W.E.E.L. - 15min forecast}
\end{axis}
\end{tikzpicture}
\end{document}
